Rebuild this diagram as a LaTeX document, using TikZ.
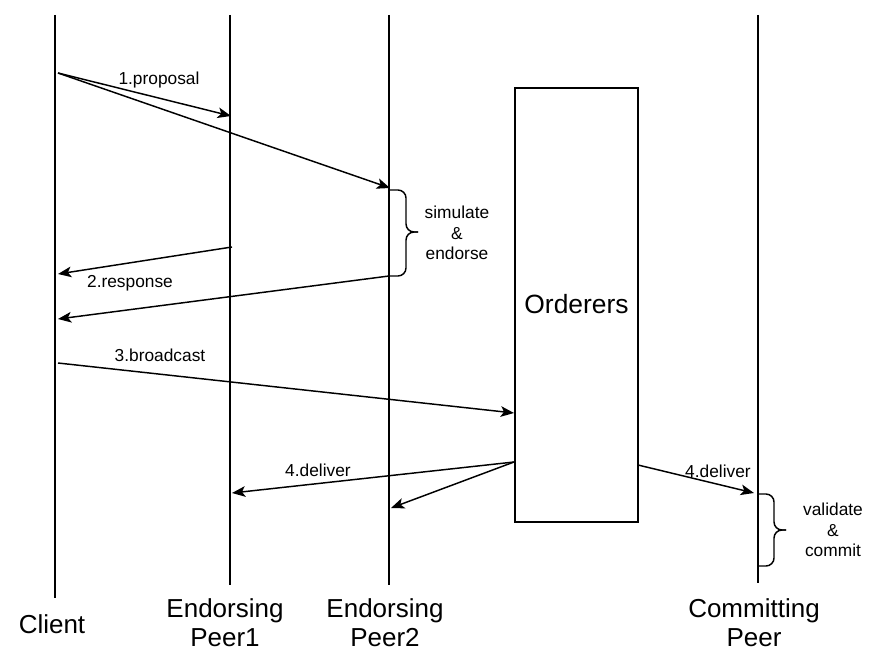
\documentclass[tikz,border=0pt]{standalone}
\usepackage{fontspec}
\setmainfont{Liberation Sans}
\usetikzlibrary{arrows.meta}
\begin{document}
\begin{tikzpicture}[x=0.75pt,y=-0.75pt,
  life/.style={line width=1.1pt},
  msg/.style={line width=1.1pt,-{Stealth[length=10pt,width=8pt,inset=2.5pt]}},
  big/.style={font=\fontsize{19.5}{22}\selectfont,align=center},
  orderfont/.style={font=\fontsize{19.8}{24}\selectfont,align=center},
  small/.style={font=\fontsize{13}{15.5}\selectfont,align=center},
  bracepath/.style={line width=1.1pt,rounded corners=6pt}]
\useasboundingbox (0,0) rectangle (875,663);
% lifelines
\coordinate (cT) at (55,15);  \coordinate (cB) at (55,598);
\coordinate (e1T) at (230,15); \coordinate (e1B) at (230,585);
\coordinate (e2T) at (389,15); \coordinate (e2B) at (389,585);
\coordinate (kT) at (758,15); \coordinate (kB) at (758,583);
\draw[life] (cT) -- (cB);
\draw[life] (e1T) -- (e1B);
\draw[life] (e2T) -- (e2B);
\draw[life] (kT) -- (kB);
% orderers
\node[draw,line width=1.1pt,minimum width=123*0.75pt,minimum height=434*0.75pt,inner sep=0pt] (ord) at (576.5,305) {};
\node[orderfont] (ordt) at (576.5,304) {Orderers};
% names
\node[big] (client) at (52,624) {Client};
\node[big] (peer1) at (225,623) {Endorsing\\Peer1};
\node[big] (peer2) at (385,623) {Endorsing\\Peer2};
\node[big] (commit) at (754,623) {Committing\\Peer};
% endpoints
\coordinate (p0) at (58,73);
\coordinate (p1) at (231,116);
\coordinate (p2) at (390,188);
\coordinate (r1s) at (232,247);
\coordinate (r1e) at (58,274);
\coordinate (r2s) at (389,276);
\coordinate (r2e) at (58,319);
\coordinate (b0) at (58,363);
\coordinate (b1) at (514,413);
\coordinate (d0) at (514,462);
\coordinate (d1) at (232,493);
\coordinate (d2) at (391,508);
\coordinate (d3s) at (638,465);
\coordinate (d3e) at (754,493);
% messages
\draw[msg] (p0) -- (p1);
\draw[msg] (p0) -- (p2);
\draw[msg] (r1s) -- (r1e);
\draw[msg] (r2s) -- (r2e);
\draw[msg] (b0) -- (b1);
\draw[msg] (d0) -- (d1);
\draw[msg] (d0) -- (d2);
\draw[msg] (d3s) -- (d3e);
% labels
\node[small] (l1) at (159,80) {1.proposal};
\node[small] (l2) at (130,283) {2.response};
\node[small] (l3) at (160,355) {3.broadcast};
\node[small] (l4) at (318,470) {4.deliver};
\node[small] (l5) at (718,471) {4.deliver};
% braces
\draw[bracepath] (389,190) -- (406,190) -- (406,232) -- (418,232);
\draw[bracepath] (389,276) -- (406,276) -- (406,232) -- (418,232);
\node[small] (sim) at (457,233) {simulate\\\&\\endorse};
\draw[bracepath] (758,494) -- (774,494) -- (774,530) -- (786,530);
\draw[bracepath] (758,566) -- (774,566) -- (774,530) -- (786,530);
\node[small] (val) at (833,530) {validate\\\&\\commit};
\end{tikzpicture}
\end{document}
